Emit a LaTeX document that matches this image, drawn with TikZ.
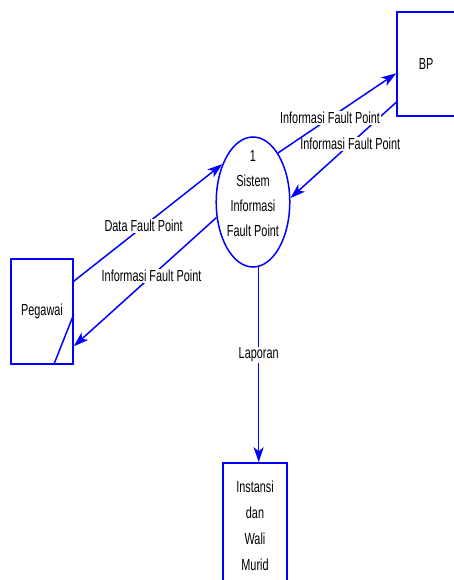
\documentclass[tikz,border=0pt]{standalone}
\usepackage{fontspec}
\setmainfont{Liberation Sans}[FakeStretch=0.68]
\usetikzlibrary{
  arrows.meta,
  positioning,
  shapes.geometric,
  calc
}
\definecolor{dfdline}{RGB}{0,0,255}

\begin{document}
\begin{tikzpicture}[
  x=1pt, y=-1pt,
  every node/.style={font=\fontsize{16pt}{19pt}\selectfont},
  entity/.style={draw=dfdline, line width=1.5pt, rectangle, align=center},
  process/.style={draw=dfdline, line width=1.5pt, ellipse, align=center,
               minimum width=72pt, minimum height=130pt, inner xsep=0pt, inner ysep=-10pt},
  flow/.style={draw=dfdline, line width=1.5pt, -{Stealth[length=15pt,width=10pt,inset=4pt]}},
  flowlabel/.style={fill=white, inner sep=1pt},
  >=Stealth
]

\useasboundingbox (0,0) rectangle (453,580);

\node[entity, minimum width=62pt, minimum height=105pt] (peg) at (42,311.5) {Pegawai};
\node[entity, minimum width=58pt, minimum height=104pt] (bp) at (426,64) {BP};
\node[entity, minimum width=64pt, minimum height=126pt,
      font=\fontsize{16pt}{26pt}\selectfont] (inst) at (255,526) {Instansi\\dan\\Wali\\Murid};
\node[process, font=\fontsize{16pt}{25pt}\selectfont, text depth=18pt] (sis) at (253,202)
  {1\\Sistem\\Informasi\\Fault Point};

\draw[draw=dfdline, line width=1.5pt] ($(peg.north east)+(0,56)$) -- ($(peg.south east)+(-20,0)$);

\draw[flow] ($(peg.north east)+(0,23)$) -- node[flowlabel, pos=.47] {Data Fault Point} (sis.129);
\draw[flow] (sis.203) -- node[flowlabel, pos=.455] {Informasi Fault Point} ($(peg.north east)+(0,88)$);
\draw[flow] ($(bp.north west)+(0,91)$) -- node[flowlabel, pos=.435] {Informasi Fault Point} (sis.6);
\draw[flow] (sis.63) -- node[flowlabel, pos=.44] {Informasi Fault Point} ($(bp.north west)+(0,62)$);
\draw[flow] (sis.-85) -- node[flowlabel, pos=.45] {Laporan} (sis.-85 |- inst.north);

\end{tikzpicture}
\end{document}
